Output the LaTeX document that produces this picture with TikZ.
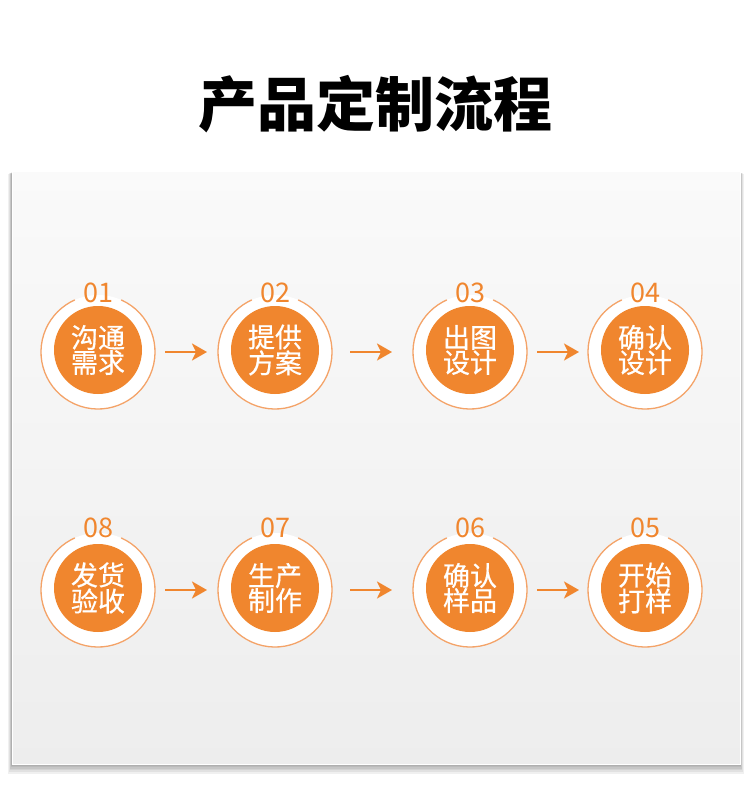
\documentclass[tikz,border=0pt]{standalone}
\usepackage{fontspec}
\setmainfont{Noto Sans CJK SC}
\newfontfamily\medcjk[FakeBold=0.6]{Noto Sans CJK SC}
\usetikzlibrary{arrows.meta}
\definecolor{org}{HTML}{F0862E}
\definecolor{ringc}{HTML}{F4A368}
\begin{document}
\begin{tikzpicture}[x=1pt,y=-1pt,
  panel/.style={draw=white,line width=1pt,top color=black!2,bottom color=black!7},
  shade/.style={fill=black,opacity=0.06},
  ring/.style={draw=ringc,line width=1.3pt},
  disk/.style={circle,fill=org,minimum size=88pt,inner sep=0pt,text=white,
    align=center,font=\medcjk\fontsize{27}{25}\selectfont},
  num/.style={text=org,font=\fontsize{27}{28}\selectfont,inner sep=0pt},
  flow/.style={draw=org,line width=2.6pt,-{Stealth[length=15pt,width=17pt,inset=4pt]}},
  ttl/.style={font=\fontsize{59}{62}\selectfont\bfseries,text=black}]
\useasboundingbox (0,0) rectangle (750,799);
\fill[white] (0,0) rectangle (750,799);
\node[ttl] (title) at (375,104) {产品定制流程};
\foreach \d in {1,...,6}{
  \fill[shade] (12-\d*0.6,172+\d*0.3) rectangle (740+\d*0.6,764+\d*1.6);
}
\path[panel] (12,172) rectangle (740,764);
\foreach \n/\x/\y/\a/\b/\ny in {01/98/352/沟通/需求/293,02/275/352/提供/方案/293,03/470/352/出图/设计/293,04/645/352/确认/设计/293,
  08/98/590/发货/验收/528,07/275/590/生产/制作/528,06/470/590/确认/样品/528,05/645/590/开始/打样/528}{
  \fill[white] (\x,\y) circle[radius=57];
  \draw[ring] (\x,\y) ++(294:57) arc[start angle=294,end angle=606,radius=57];
  \node[disk] (s\n) at (\x,\y-2) {\a\\\b};
  \node[num] (n\n) at (\x,\ny) {\n};
}
\foreach \r/\y in {a/352,b/590}{
  \coordinate (\r1) at (165,\y); \coordinate (\r2) at (207,\y);
  \coordinate (\r3) at (350,\y); \coordinate (\r4) at (392,\y);
  \coordinate (\r5) at (537,\y); \coordinate (\r6) at (579,\y);
  \draw[flow] (\r1) -- (\r2);
  \draw[flow] (\r3) -- (\r4);
  \draw[flow] (\r5) -- (\r6);
}
\end{tikzpicture}
\end{document}
